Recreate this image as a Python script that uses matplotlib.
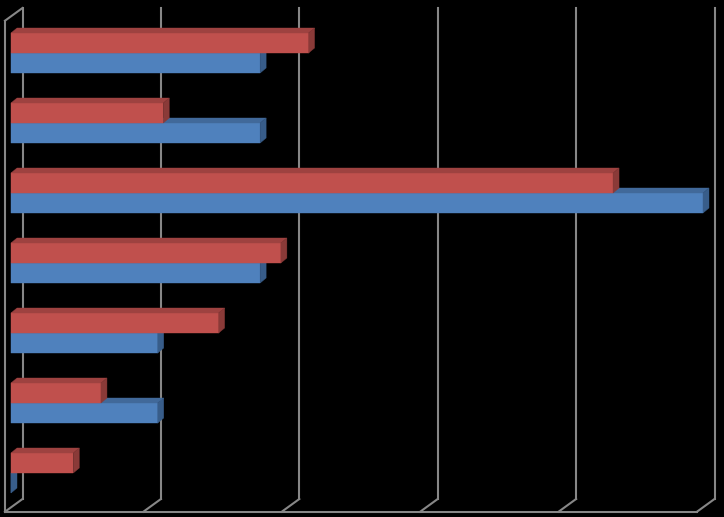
import matplotlib
matplotlib.use('Agg')
import matplotlib.pyplot as plt
from matplotlib.patches import Polygon
import numpy as np

# values (one gridline = 10 units), groups listed top to bottom
groups = np.arange(7)
red_vals = [21.5, 11.0, 43.5, 19.5, 15.0, 6.5, 4.5]
blue_vals = [18.0, 18.0, 50.0, 18.0, 10.6, 10.6, 0.0]
grid_vals = [0, 10, 20, 30, 40, 50]

red_front, red_top, red_side = '#C0504D', '#9E4240', '#8A3A38'
blue_front, blue_top, blue_side = '#4F81BD', '#41699A', '#385D8A'
grid_col = '#878787'

W, H = 724, 517
PX = 13.84          # pixels per value unit
ROW = 70.0          # pixels per group
h = 20 / ROW        # bar thickness in group units

# depth offsets (value units, group units)
bar_dx, bar_dy = 6 / PX, -5 / ROW
front_dx, front_dy = -6 / PX, 4.4 / ROW
back_dx, back_dy = 11.5 / PX, -8.3 / ROW
y_bot = (507.3 - 53) / ROW
y_top = (16.3 - 53) / ROW

fig = plt.figure(figsize=(W / 100, H / 100), dpi=100)
fig.patch.set_facecolor('black')
ax = fig.add_axes([0, 0, 1, 1])
ax.set_facecolor('black')
ax.set_xlim(-11 / PX, (W - 11) / PX)
ax.set_ylim((H - 53) / ROW, -53 / ROW)
ax.axis('off')

# walls and gridlines
lw = 1.5
for v in grid_vals:
    ax.plot([v + back_dx, v + back_dx], [y_top + back_dy, y_bot + back_dy], color=grid_col, lw=lw, zorder=1)
    ax.plot([v + back_dx, v + front_dx], [y_bot + back_dy, y_bot + front_dy], color=grid_col, lw=lw, zorder=1)
ax.plot([front_dx, grid_vals[-1] + front_dx], [y_bot + front_dy, y_bot + front_dy], color=grid_col, lw=lw, zorder=1)
ax.plot([front_dx, front_dx], [y_bot + front_dy, y_top + front_dy], color=grid_col, lw=lw, zorder=1)
ax.plot([front_dx, back_dx], [y_top + front_dy, y_top + back_dy], color=grid_col, lw=lw, zorder=1)


def draw_bar(y0, val, cf, ct, cs, z):
    # y0 is the top edge of the front face
    ax.barh(y0 + h / 2, val, height=h, left=0, color=cf, edgecolor=cf, lw=0.3, zorder=z)
    top = [(0, y0), (val, y0), (val + bar_dx, y0 + bar_dy), (bar_dx, y0 + bar_dy)]
    side = [(val, y0), (val + bar_dx, y0 + bar_dy), (val + bar_dx, y0 + h + bar_dy), (val, y0 + h)]
    ax.add_patch(Polygon(top, closed=True, facecolor=ct, edgecolor=ct, lw=0.3, zorder=z))
    ax.add_patch(Polygon(side, closed=True, facecolor=cs, edgecolor=cs, lw=0.3, zorder=z))


for i in groups:
    draw_bar(i, blue_vals[i], blue_front, blue_top, blue_side, 2 + 2 * i)
    draw_bar(i - h, red_vals[i], red_front, red_top, red_side, 3 + 2 * i)

fig.savefig('out.png', dpi=100, facecolor='black')
